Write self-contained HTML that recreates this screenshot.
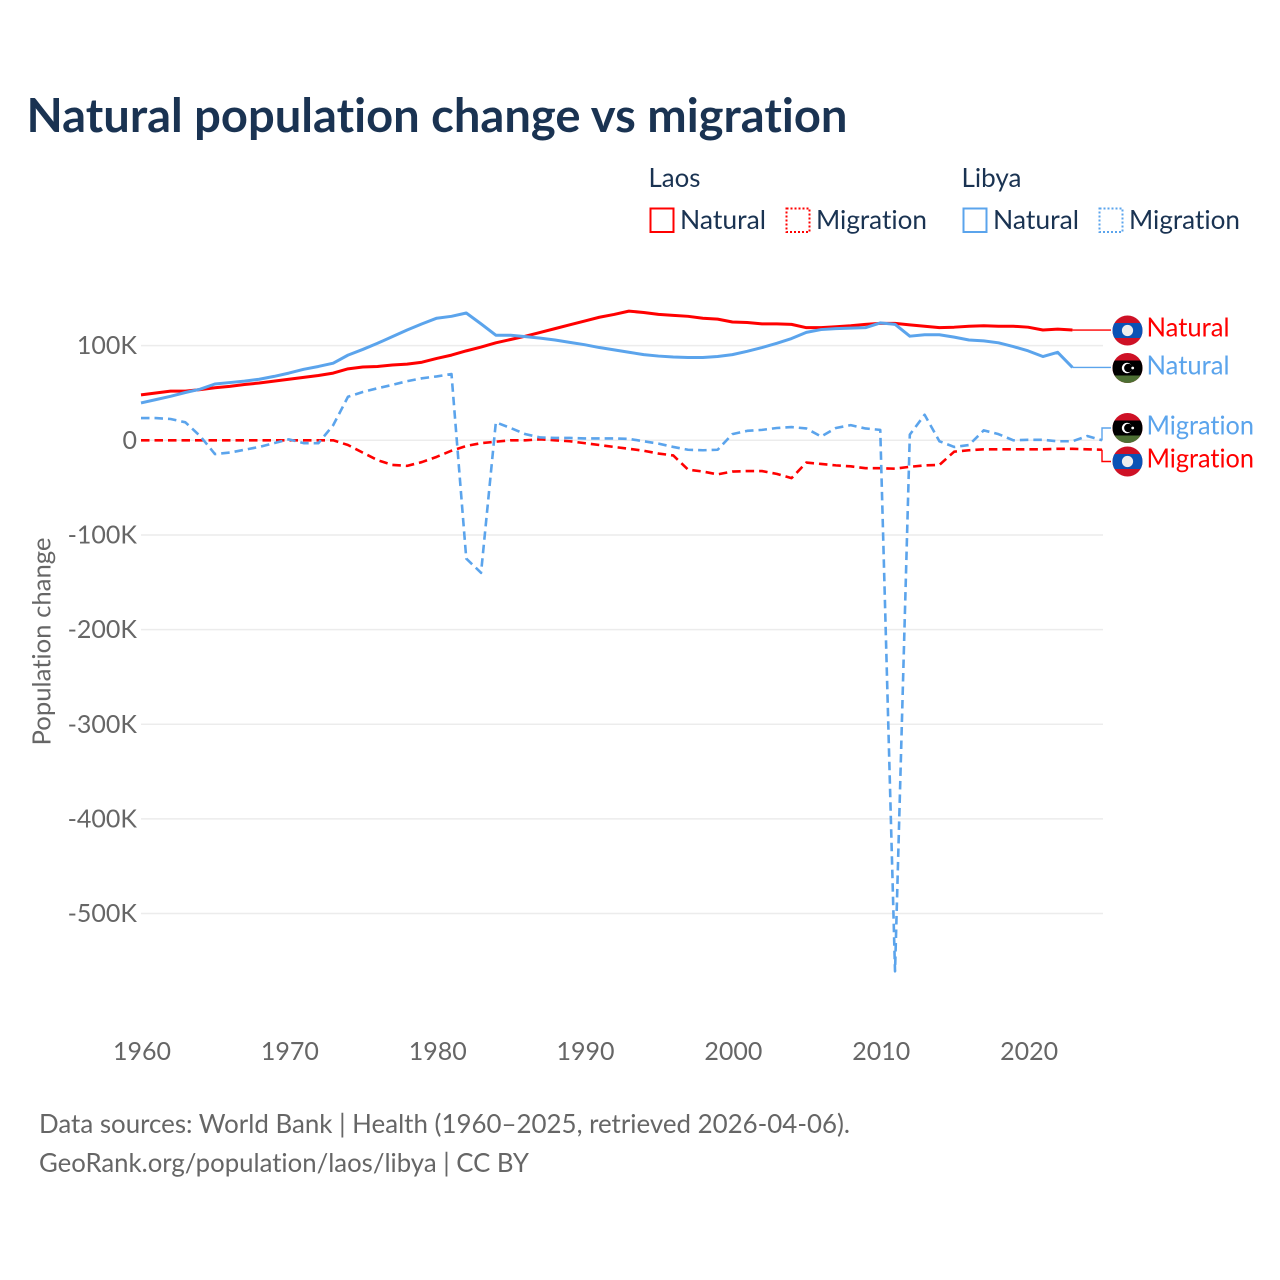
<!DOCTYPE html>
<html lang="en">
<head>
<meta charset="utf-8">
<title>Natural population change vs migration</title>
<style>
  html, body { margin: 0; padding: 0; background: #fff; }
  svg { display: block; }
  text { font-family: "Lato", "Carlito", "Liberation Sans", sans-serif; font-variant-ligatures: none; }
</style>
</head>
<body>
<svg id="chart" xmlns="http://www.w3.org/2000/svg" width="1280" height="1280" viewBox="0 0 1280 1280">
  <defs>
    <clipPath id="flag-clip"><circle cx="0" cy="0" r="15"></circle></clipPath>
  </defs>
  <rect width="1280" height="1280" fill="#fff"></rect>

  <text x="26.5" y="132" font-size="46.5" font-weight="700" fill="#1a3352" textLength="821" lengthAdjust="spacingAndGlyphs">Natural population change vs migration</text>

  <g fill="#1a3352" font-size="26.5">
    <text x="648.5" y="187" textLength="52" lengthAdjust="spacingAndGlyphs">Laos</text>
    <text x="961.5" y="187" textLength="60" lengthAdjust="spacingAndGlyphs">Libya</text>
    <rect x="650.5" y="208.5" width="23" height="23.5" fill="none" stroke="#ff0000" stroke-width="2"></rect>
    <text x="680" y="229" textLength="86" lengthAdjust="spacingAndGlyphs">Natural</text>
    <rect x="786.5" y="208.5" width="23" height="23.5" fill="none" stroke="#ff0000" stroke-width="2" stroke-dasharray="2 2"></rect>
    <text x="816" y="229" textLength="111" lengthAdjust="spacingAndGlyphs">Migration</text>
    <rect x="963.5" y="208.5" width="23" height="23.5" fill="none" stroke="#5ba4ec" stroke-width="2"></rect>
    <text x="993" y="229" textLength="86" lengthAdjust="spacingAndGlyphs">Natural</text>
    <rect x="1099.5" y="208.5" width="23" height="23.5" fill="none" stroke="#5ba4ec" stroke-width="2" stroke-dasharray="2 2"></rect>
    <text x="1129" y="229" textLength="111" lengthAdjust="spacingAndGlyphs">Migration</text>
  </g>

  <g id="grid"></g>
  <g id="y-ticks" fill="#666" font-size="25"></g>
  <g id="x-ticks" fill="#666" font-size="25"></g>

  <text transform="translate(50.5 745.5) rotate(-90)" fill="#666" font-size="25" textLength="208" lengthAdjust="spacingAndGlyphs">Population change</text>

  <g id="series"></g>
  <g id="leaders"></g>

  <g transform="translate(1127.5 330.5)">
    <g clip-path="url(#flag-clip)">
      <rect x="-15" y="-15" width="30" height="30" fill="#ce1126"></rect>
      <rect x="-15" y="-7.5" width="30" height="15" fill="#0a52b5"></rect>
      <circle r="5.6" fill="#eee"></circle>
    </g>
  </g>
  <g transform="translate(1127.5 368)">
    <g clip-path="url(#flag-clip)">
      <rect x="-15" y="-15" width="30" height="30" fill="#ce1126"></rect>
      <rect x="-15" y="-7.5" width="30" height="15" fill="#000"></rect>
      <rect x="-15" y="7.5" width="30" height="7.5" fill="#4d6f33"></rect>
      <circle cx="-0.5" r="5.2" fill="#fff"></circle>
      <circle cx="0.8" r="4.2" fill="#000"></circle>
      <circle cx="5.2" r="1.4" fill="#fff"></circle>
    </g>
  </g>
  <g transform="translate(1127.5 428)">
    <g clip-path="url(#flag-clip)">
      <rect x="-15" y="-15" width="30" height="30" fill="#ce1126"></rect>
      <rect x="-15" y="-7.5" width="30" height="15" fill="#000"></rect>
      <rect x="-15" y="7.5" width="30" height="7.5" fill="#4d6f33"></rect>
      <circle cx="-0.5" r="5.2" fill="#fff"></circle>
      <circle cx="0.8" r="4.2" fill="#000"></circle>
      <circle cx="5.2" r="1.4" fill="#fff"></circle>
    </g>
  </g>
  <g transform="translate(1127.5 461.5)">
    <g clip-path="url(#flag-clip)">
      <rect x="-15" y="-15" width="30" height="30" fill="#ce1126"></rect>
      <rect x="-15" y="-7.5" width="30" height="15" fill="#0a52b5"></rect>
      <circle r="5.6" fill="#eee"></circle>
    </g>
  </g>

  <g font-size="26.5">
    <text x="1146.5" y="336.5" fill="#ff0000" textLength="83" lengthAdjust="spacingAndGlyphs">Natural</text>
    <text x="1146.5" y="374.5" fill="#5ba4ec" textLength="83" lengthAdjust="spacingAndGlyphs">Natural</text>
    <text x="1146.5" y="434.5" fill="#5ba4ec" textLength="107.5" lengthAdjust="spacingAndGlyphs">Migration</text>
    <text x="1146.5" y="467.5" fill="#ff0000" textLength="107.5" lengthAdjust="spacingAndGlyphs">Migration</text>
  </g>

  <g fill="#666" font-size="26">
    <text x="39" y="1133" textLength="811" lengthAdjust="spacingAndGlyphs">Data sources: World Bank | Health (1960–2025, retrieved 2026-04-06).</text>
    <text x="39" y="1172" textLength="490" lengthAdjust="spacingAndGlyphs">GeoRank.org/population/laos/libya | CC BY</text>
  </g>
</svg>

<script>
// Tick labels and values, in thousands
const yTickValues = [100, 0, -100, -200, -300, -400, -500];
const yTickLabels = ["100K", "0", "-100K", "-200K", "-300K", "-400K", "-500K"];
const xTickYears = [1960, 1970, 1980, 1990, 2000, 2010, 2020];
const startYear = 1960;

// Series values, thousands of people per year, from 1960 onward
const laosNatural = [48, 50, 52, 52, 53.5, 55.5, 57, 59, 60.5, 62.5, 64.5, 66.5, 68.5, 71, 75.5, 77.5, 78, 79.5, 80.5, 82.5, 86.5, 90, 94.5, 98.5, 103, 106.5, 110, 114, 118, 122, 126, 130, 133, 136.5, 135, 133, 132, 131, 129, 128, 125, 124.5, 123, 123, 122.5, 119, 119, 120, 121, 122.5, 123.5, 123.5, 122, 120.5, 119, 119.5, 120.5, 121, 120.5, 120.5, 119.5, 116.5, 117.5, 116.5];
const laosMigration = [0, 0, 0, 0, 0, 0, 0, 0, 0, 0, 0, 0, 0, 0, -5, -13, -21, -26, -27, -23, -17.5, -11, -6, -3, -1.5, 0, 0, 1, 0, -1, -3, -5, -7, -9, -11, -14, -16, -31, -33, -36, -33, -32.5, -32.5, -35.5, -40, -23.5, -25, -26.5, -27.5, -29.5, -29.5, -30, -28, -26.5, -26, -12, -10.5, -9.5, -9.5, -9.5, -9.5, -9.5, -9, -9, -9.5, -10];
const libyaNatural = [39.5, 43, 46.5, 50.5, 54, 59.5, 61, 62.5, 64.5, 67.5, 71, 75, 78, 81.5, 90, 96, 102.5, 109.5, 116.5, 123, 129, 131, 134.5, 123, 111, 111, 109.5, 108, 106, 103.5, 101, 98, 95.5, 93, 90.5, 89, 88, 87.5, 87.5, 88.5, 90.5, 94, 98, 102.5, 107.5, 114, 117, 118, 118.5, 119, 124, 122.5, 110, 111.5, 111.5, 109, 106, 105, 103, 99, 94.5, 88.5, 93, 77];
const libyaMigration = [23.5, 23.5, 22.5, 19, 4.5, -14.5, -13, -10, -7, -3, 1, -3, -3, 16, 46, 51, 55, 58.5, 62.5, 65.5, 67.5, 70, -125, -140, 19, 13, 6.5, 3, 2.5, 2.5, 2, 2, 2, 1.5, -1, -3.5, -7, -10, -10.5, -10, 6.5, 10, 11, 13, 14, 12.5, 4, 13, 16, 12.5, 11, -561, 6, 27, -1, -7, -5, 10.5, 6.5, 0, 0.5, 0.5, -1, -1, 4.5, 0];

// Axis functions
function xScale(year) { return 141 + (year - 1960) * 14.785; }
function yScale(value) { return 440.3 - value * 0.9465; }

const SVG_NS = "http://www.w3.org/2000/svg";
function make(tag, parentId, props, text) {
  const el = document.createElementNS(SVG_NS, tag);
  for (const k in props) el.setAttribute(k, props[k]);
  if (text !== undefined) el.textContent = text;
  document.getElementById(parentId).appendChild(el);
  return el;
}

yTickValues.forEach(function (v, i) {
  const y = yScale(v);
  const line = make("line", "grid", { x1: 141, x2: 1103, y1: y, y2: y, stroke: "#ececec", "stroke-width": 1.5 });
  
  
  const label = make("text", "y-ticks", { x: 137, y: y + 8.5, "text-anchor": "end" }, yTickLabels[i]);
  
  
});

xTickYears.forEach(function (yr) {
  const label = make("text", "x-ticks", { x: xScale(yr) + 1, y: 1060, "text-anchor": "middle" }, String(yr));
  
  
});

function pathFor(values) {
  return values.map(function (v, i) {
    return (i ? "L" : "M") + xScale(startYear + i).toFixed(2) + " " + yScale(v).toFixed(2);
  }).join(" ");
}

const lineLaosNatural = make("path", "series", { d: pathFor(laosNatural), fill: "none", stroke: "#ff0000", "stroke-width": 3, "stroke-linejoin": "round" });


const lineLaosMigration = make("path", "series", { d: pathFor(laosMigration), fill: "none", stroke: "#ff0000", "stroke-width": 2.6, "stroke-dasharray": "8.5 5", "stroke-linejoin": "round" });


const lineLibyaNatural = make("path", "series", { d: pathFor(libyaNatural), fill: "none", stroke: "#5ba4ec", "stroke-width": 3, "stroke-linejoin": "round" });


const lineLibyaMigration = make("path", "series", { d: pathFor(libyaMigration), fill: "none", stroke: "#5ba4ec", "stroke-width": 2.6, "stroke-dasharray": "8.5 5", "stroke-linejoin": "round" });



// Leader lines join each series' final point to its end label.
// Series ending before the right edge run flat; others elbow at the edge.
function leader(values, color, labelY) {
  const lastX = xScale(startYear + values.length - 1);
  const lastY = yScale(values[values.length - 1]);
  let d;
  if (lastX < 1100) {
    d = "M" + lastX.toFixed(2) + " " + lastY.toFixed(2) + " L1111 " + lastY.toFixed(2);
  } else {
    d = "M1102 " + lastY.toFixed(2) + " L1102 " + labelY + " L1111 " + labelY;
  }
  return make("path", "leaders", { d: d, fill: "none", stroke: color, "stroke-width": 1.4 });
}
const leaderLaosNatural = leader(laosNatural, "#ff0000", 330.5);


const leaderLibyaNatural = leader(libyaNatural, "#5ba4ec", 368);


const leaderLibyaMigration = leader(libyaMigration, "#5ba4ec", 428);


const leaderLaosMigration = leader(laosMigration, "#ff0000", 461.5);


</script>
</body>
</html>
